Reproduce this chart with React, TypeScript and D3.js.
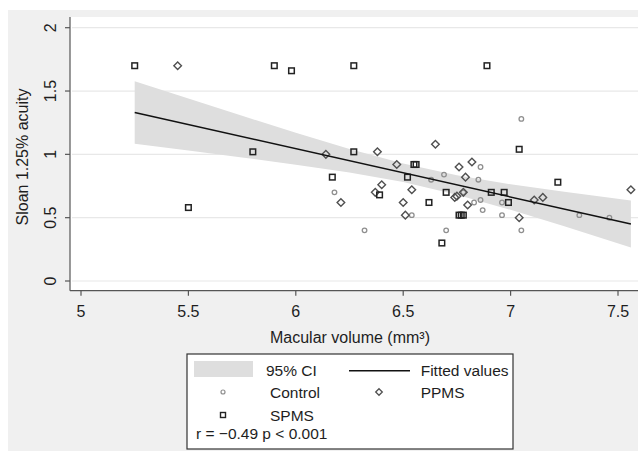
import React from "react";
import * as d3 from "d3";

// ---- data ----
const controlX = [6.18, 6.32, 6.54, 6.63, 6.69, 6.70, 6.78, 6.83, 6.85, 6.86, 6.86, 6.87, 6.96, 6.96, 7.05, 7.05, 7.32, 7.46];
const controlY = [0.70, 0.40, 0.52, 0.80, 0.84, 0.40, 0.70, 0.62, 0.80, 0.90, 0.64, 0.56, 0.52, 0.62, 1.28, 0.40, 0.52, 0.50];

const ppmsX = [5.45, 6.14, 6.21, 6.37, 6.38, 6.40, 6.47, 6.50, 6.51, 6.54, 6.65, 6.74, 6.75, 6.76, 6.78, 6.79, 6.80, 6.82, 7.04, 7.11, 7.15, 7.56];
const ppmsY = [1.70, 1.00, 0.62, 0.70, 1.02, 0.76, 0.92, 0.62, 0.52, 0.72, 1.08, 0.66, 0.67, 0.90, 0.70, 0.82, 0.60, 0.94, 0.50, 0.64, 0.66, 0.72];

const spmsX = [5.25, 5.50, 5.80, 5.90, 5.98, 6.17, 6.27, 6.27, 6.39, 6.52, 6.55, 6.56, 6.62, 6.68, 6.70, 6.76, 6.77, 6.78, 6.89, 6.91, 6.97, 6.99, 7.04, 7.22];
const spmsY = [1.70, 0.58, 1.02, 1.70, 1.66, 0.82, 1.70, 1.02, 0.68, 0.82, 0.92, 0.92, 0.62, 0.30, 0.70, 0.52, 0.52, 0.52, 1.70, 0.70, 0.70, 0.62, 1.04, 0.78];

const fitX = [5.25, 7.56];
const fitY = [1.33, 0.45];

const ciX = [5.25, 5.5, 5.75, 6.0, 6.25, 6.5, 6.75, 7.0, 7.25, 7.56];
const ciUpper = [1.577, 1.44, 1.304, 1.17, 1.042, 0.927, 0.834, 0.764, 0.704, 0.635];
const ciLower = [1.083, 1.03, 0.976, 0.918, 0.856, 0.782, 0.682, 0.562, 0.432, 0.265];

const xTicks = [5, 5.5, 6, 6.5, 7, 7.5];
const yTicks = [0, 0.5, 1, 1.5, 2];
const xTickLabels = ["5", "5.5", "6", "6.5", "7", "7.5"];
const yTickLabels = ["0", "0.5", "1", "1.5", "2"];

const FONT = "'Liberation Sans', Arial, sans-serif";
const TXT = "#1e1e1e";

export default function App() {
  const x = d3.scaleLinear().domain([5, 7.5]).range([81, 618]);
  const y = d3.scaleLinear().domain([0, 2]).range([281, 27.7]);

  const band = d3
    .area<number>()
    .x((_, i) => x(ciX[i]))
    .y0((_, i) => y(ciLower[i]))
    .y1((_, i) => y(ciUpper[i]))(ciX);

  const fitLine = d3
    .line<number>()
    .x((_, i) => x(fitX[i]))
    .y((_, i) => y(fitY[i]))(fitX);

  const sq = 5.6;
  const dm = 3.8;
  const diamondPath = (cx: number, cy: number, r: number) =>
    `M${cx},${cy - r}L${cx + r},${cy}L${cx},${cy + r}L${cx - r},${cy}Z`;

  const plotLeft = 70;
  const plotTop = 17;
  const plotBottom = 290.7;
  const plotRight = 638;

  return (
    <svg
      width={638}
      height={451}
      style={{ position: "absolute", left: 0, top: 0 }}
      fontFamily={FONT}
    >
      <rect x={0} y={0} width={638} height={451} fill="#ffffff" />
      <rect x={8} y={10} width={630} height={441} fill="#f0f0f0" />
      <rect x={plotLeft} y={plotTop} width={plotRight - plotLeft} height={plotBottom - plotTop} fill="#ffffff" />

      {/* gridlines */}
      {yTicks.map((t) => (
        <line key={"g" + t} x1={plotLeft + 2} x2={plotRight} y1={y(t)} y2={y(t)} stroke="#e8e8e8" strokeWidth={1.2} />
      ))}

      {/* CI band */}
      <path d={band || ""} fill="#dedede" />

      {/* points: control */}
      {controlX.map((v, i) => (
        <circle key={"c" + i} cx={x(v)} cy={y(controlY[i])} r={2.3} fill="none" stroke="#8f8f8f" strokeWidth={1.3} />
      ))}
      {/* PPMS */}
      {ppmsX.map((v, i) => (
        <path key={"p" + i} d={diamondPath(x(v), y(ppmsY[i]), dm)} fill="none" stroke="#505050" strokeWidth={1.4} />
      ))}
      {/* SPMS */}
      {spmsX.map((v, i) => (
        <rect
          key={"s" + i}
          x={x(v) - sq / 2}
          y={y(spmsY[i]) - sq / 2}
          width={sq}
          height={sq}
          fill="none"
          stroke="#222"
          strokeWidth={1.5}
        />
      ))}

      {/* fitted line */}
      <path d={fitLine || ""} fill="none" stroke="#111" strokeWidth={1.5} />

      {/* axes */}
      <line x1={plotLeft} x2={plotLeft} y1={plotTop} y2={plotBottom} stroke="#555" strokeWidth={1.2} />
      <line x1={plotLeft} x2={plotRight} y1={plotBottom} y2={plotBottom} stroke="#555" strokeWidth={1.2} />
      {yTicks.map((t, i) => (
        <g key={"yt" + t}>
          <line x1={plotLeft - 5} x2={plotLeft} y1={y(t)} y2={y(t)} stroke="#555" strokeWidth={1.2} />
          <text
            transform={`translate(55.5,${y(t)}) rotate(-90)`}
            textAnchor="middle"
            fontSize={16}
            fill={TXT}
          >
            {yTickLabels[i]}
          </text>
        </g>
      ))}
      {xTicks.map((t, i) => (
        <g key={"xt" + t}>
          <line x1={x(t)} x2={x(t)} y1={plotBottom} y2={plotBottom + 5} stroke="#555" strokeWidth={1.2} />
          <text x={x(t)} y={316.5} textAnchor="middle" fontSize={16} fill={TXT}>
            {xTickLabels[i]}
          </text>
        </g>
      ))}

      {/* axis titles */}
      <text transform="translate(28,157) rotate(-90)" textAnchor="middle" fontSize={16} fill={TXT}>
        Sloan 1.25% acuity
      </text>
      <text x={350} y={343} textAnchor="middle" fontSize={16} fill={TXT}>
        Macular volume (mm³)
      </text>

      {/* legend */}
      <rect x={187} y={354} width={326} height={95} fill="#ffffff" stroke="#333" strokeWidth={1.2} />
      <rect x={194} y={361} width={59} height={16} fill="#dedede" />
      <text x={266} y={376} fontSize={15.5} fill={TXT}>95% CI</text>
      <line x1={349} x2={410} y1={370.7} y2={370.7} stroke="#111" strokeWidth={1.5} />
      <text x={420.7} y={376} fontSize={15.5} fill={TXT}>Fitted values</text>
      <circle cx={223} cy={392} r={2} fill="none" stroke="#8f8f8f" strokeWidth={1.2} />
      <text x={270} y={397.5} fontSize={15.5} fill={TXT}>Control</text>
      <path d={diamondPath(379, 392, 3.3)} fill="none" stroke="#505050" strokeWidth={1.3} />
      <text x={420.7} y={397.5} fontSize={15.5} fill={TXT}>PPMS</text>
      <rect x={220.5} y={412.5} width={5} height={5} fill="none" stroke="#222" strokeWidth={1.4} />
      <text x={270} y={420.5} fontSize={15.5} fill={TXT}>SPMS</text>
      <text x={196} y={438.5} fontSize={15.5} fill={TXT}>r = −0.49 p &lt; 0.001</text>
    </svg>
  );
}
